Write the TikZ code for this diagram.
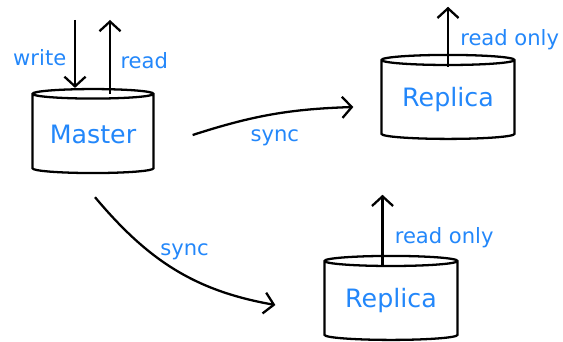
\documentclass[tikz,border=0pt]{standalone}
\usepackage{fontspec}
\setmainfont{DejaVu Sans}
\usetikzlibrary{shapes.geometric,arrows.meta}
\definecolor{ink}{RGB}{35,135,250}
\begin{document}
\begin{tikzpicture}[
        x=0.02cm, y=0.02cm,
        db/.style={cylinder, shape border rotate=90, draw, line width=1.3pt, aspect=0.11,
                   minimum width=2.42cm, minimum height=1.68cm, text=ink, font=\Large, inner sep=0pt},
        flow/.style={-{Straight Barb[length=5.5pt,width=12pt]}, line width=1.3pt},
        lbl/.style={text=ink, font=\large}
    ]
    \useasboundingbox (0,0) rectangle (563,341);

    % Databases
    \node[db] (master) at (93,207) {Master};
    \node[db, minimum width=2.66cm] (replicaA) at (448,241) {Replica};
    \node[db, minimum width=2.66cm] (replicaB) at (391,40) {Replica};

    % Client access
    \coordinate (wtop) at (75,321);
    \coordinate (rtop) at (110,321);
    \draw[flow] (wtop) -- (wtop |- master.north) node[lbl, pos=0.55, left=1pt] {write};
    \draw[flow] ([yshift=-0.12cm]rtop |- master.north) -- (rtop) node[lbl, pos=0.45, right=2pt] {read};

    % Replication
    \draw[flow] ([xshift=0.76cm,yshift=-0.02cm]master.east) to[bend left=8]
        node[lbl, pos=0.52, below=5pt] {sync} ([xshift=-0.54cm,yshift=-0.14cm]replicaA.west);
    \draw[flow] ([xshift=0.04cm,yshift=-0.46cm]master.south) to[out=-50, in=170]
        node[lbl, pos=0.36, anchor=west, xshift=1pt, yshift=1pt] {sync} ([xshift=-0.96cm,yshift=-0.08cm]replicaB.west);

    % Read only access
    \draw[flow] ([yshift=-0.26cm]replicaA.north) -- ++(0,60) node[lbl, pos=0.45, right=3pt] {read only};
    \draw[flow] ([yshift=-0.24cm,xshift=-0.17cm]replicaB.north) -- ++(0,72) node[lbl, pos=0.4, right=3pt] {read only};

\end{tikzpicture}
\end{document}
